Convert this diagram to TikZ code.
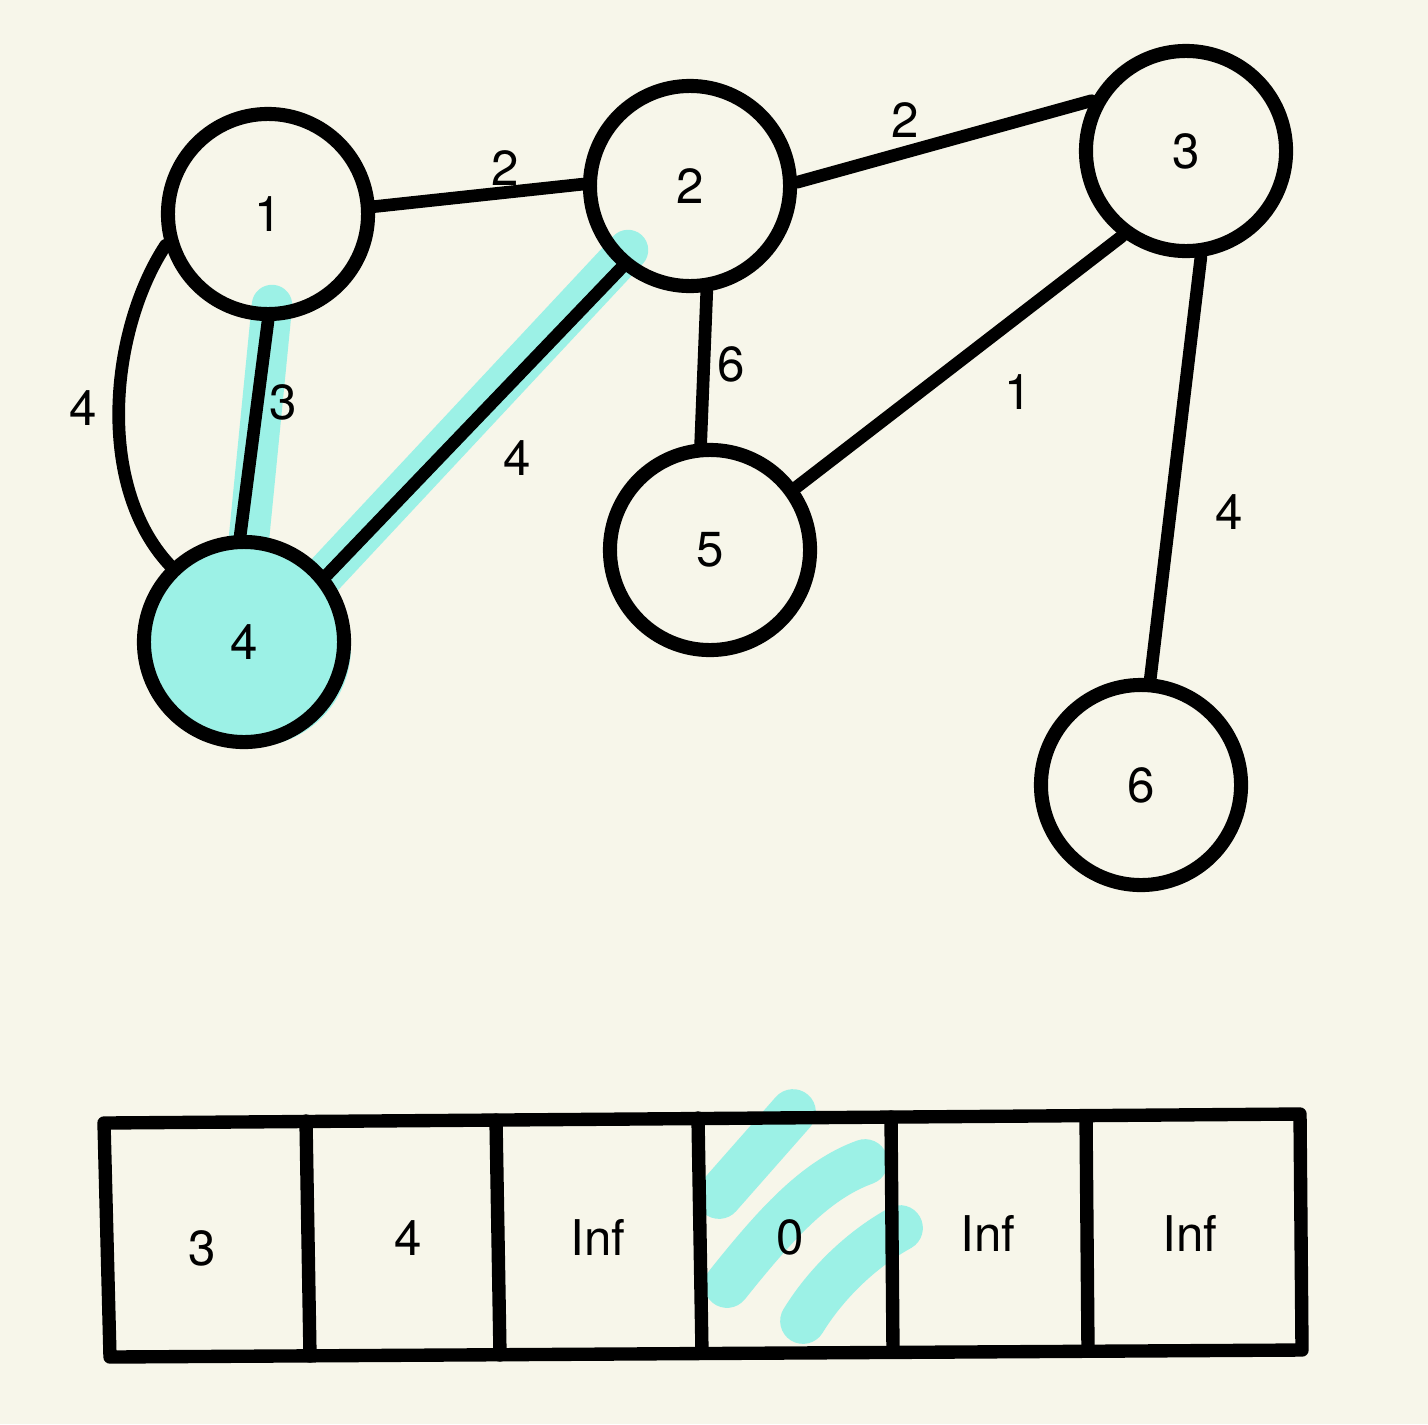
\documentclass[tikz,border=0pt]{standalone}
\usepackage{fontspec}
\setmainfont{TeX Gyre Heros}
\definecolor{PaperCream}{HTML}{F7F6EA}
\definecolor{MarkTeal}{HTML}{9CF1E6}

\begin{document}
\begin{tikzpicture}[
  x=0.01cm, y=-0.01cm,
  vertex/.style={circle, draw=black, line width=4pt, minimum size=2cm, inner sep=0pt, font=\fontsize{14}{16}\selectfont},
  edge/.style={draw=black, line width=3.6pt, line cap=round},
  weight/.style={inner sep=0pt, font=\fontsize{14}{16}\selectfont},
  marker/.style={draw=MarkTeal, line width=11.5pt, line cap=round},
  cellline/.style={draw=black, line width=3.8pt, line cap=round, line join=round}
]
\fill[PaperCream] (0,0) rectangle (1428,1424);
\useasboundingbox (0,0) rectangle (1428,1424);

% highlighted edges
\draw[marker] (272,305) -- (248,548);
\draw[marker] (628,250) -- (318,582);
\fill[MarkTeal] (251,647) circle[radius=100];

\node[vertex] (n1) at (268,214) {1};
\node[vertex] (n2) at (690,186) {2};
\node[vertex] (n3) at (1186,151) {3};
\node[vertex, fill=MarkTeal] (n4) at (244,642) {4};
\node[vertex] (n5) at (710,550) {5};
\node[vertex] (n6) at (1141,785) {6};

\draw[edge] (n1.4) -- (n2.179);
\draw[edge] (n2.2) -- (n3.152);
\draw[edge] (n1.197) .. controls (110,330) and (95,485) .. (n4.134);
\draw[edge] (n1.270) -- (n4.92);
\draw[edge] (n2.230) -- (n4.39);
\draw[edge] (n2.279) -- (n5.95);
\draw[edge] (n3.233) -- (n5.36);
\draw[edge] (n3.278) -- (n6.85);

\node[weight] (w12) at (505,168) {2};
\node[weight] (w23) at (905,120) {2};
\node[weight] (w14a) at (83,408) {4};
\node[weight] (w14b) at (283,402) {3};
\node[weight] (w24) at (517,458) {4};
\node[weight] (w25) at (731,364) {6};
\node[weight] (w35) at (1018,392) {1};
\node[weight] (w36) at (1229,512) {4};

% distance array
\draw[marker, line width=13pt] (719,1196) -- (793,1112);
\draw[marker, line width=13pt] (727,1285) .. controls (775,1225) and (815,1180) .. (865,1162);
\draw[marker, line width=13pt] (803,1321) .. controls (825,1285) and (860,1250) .. (900,1228);

\draw[cellline] (104,1123) -- (1300,1114) -- (1302,1350) -- (110,1357) -- cycle;
\foreach \xt/\yt/\xb/\yb in {306/1121/310/1356, 496/1120/500/1355, 698/1118/702/1353, 891/1117/893/1352, 1086/1116/1088/1351}
  \draw[cellline] (\xt,\yt) -- (\xb,\yb);

\node[weight] (c1) at (202,1248) {3};
\node[weight] (c2) at (408,1238) {4};
\node[weight] (c3) at (598,1237) {Inf};
\node[weight] (c4) at (790,1237) {0};
\node[weight] (c5) at (988,1233) {Inf};
\node[weight] (c6) at (1190,1233) {Inf};
\end{tikzpicture}
\end{document}
